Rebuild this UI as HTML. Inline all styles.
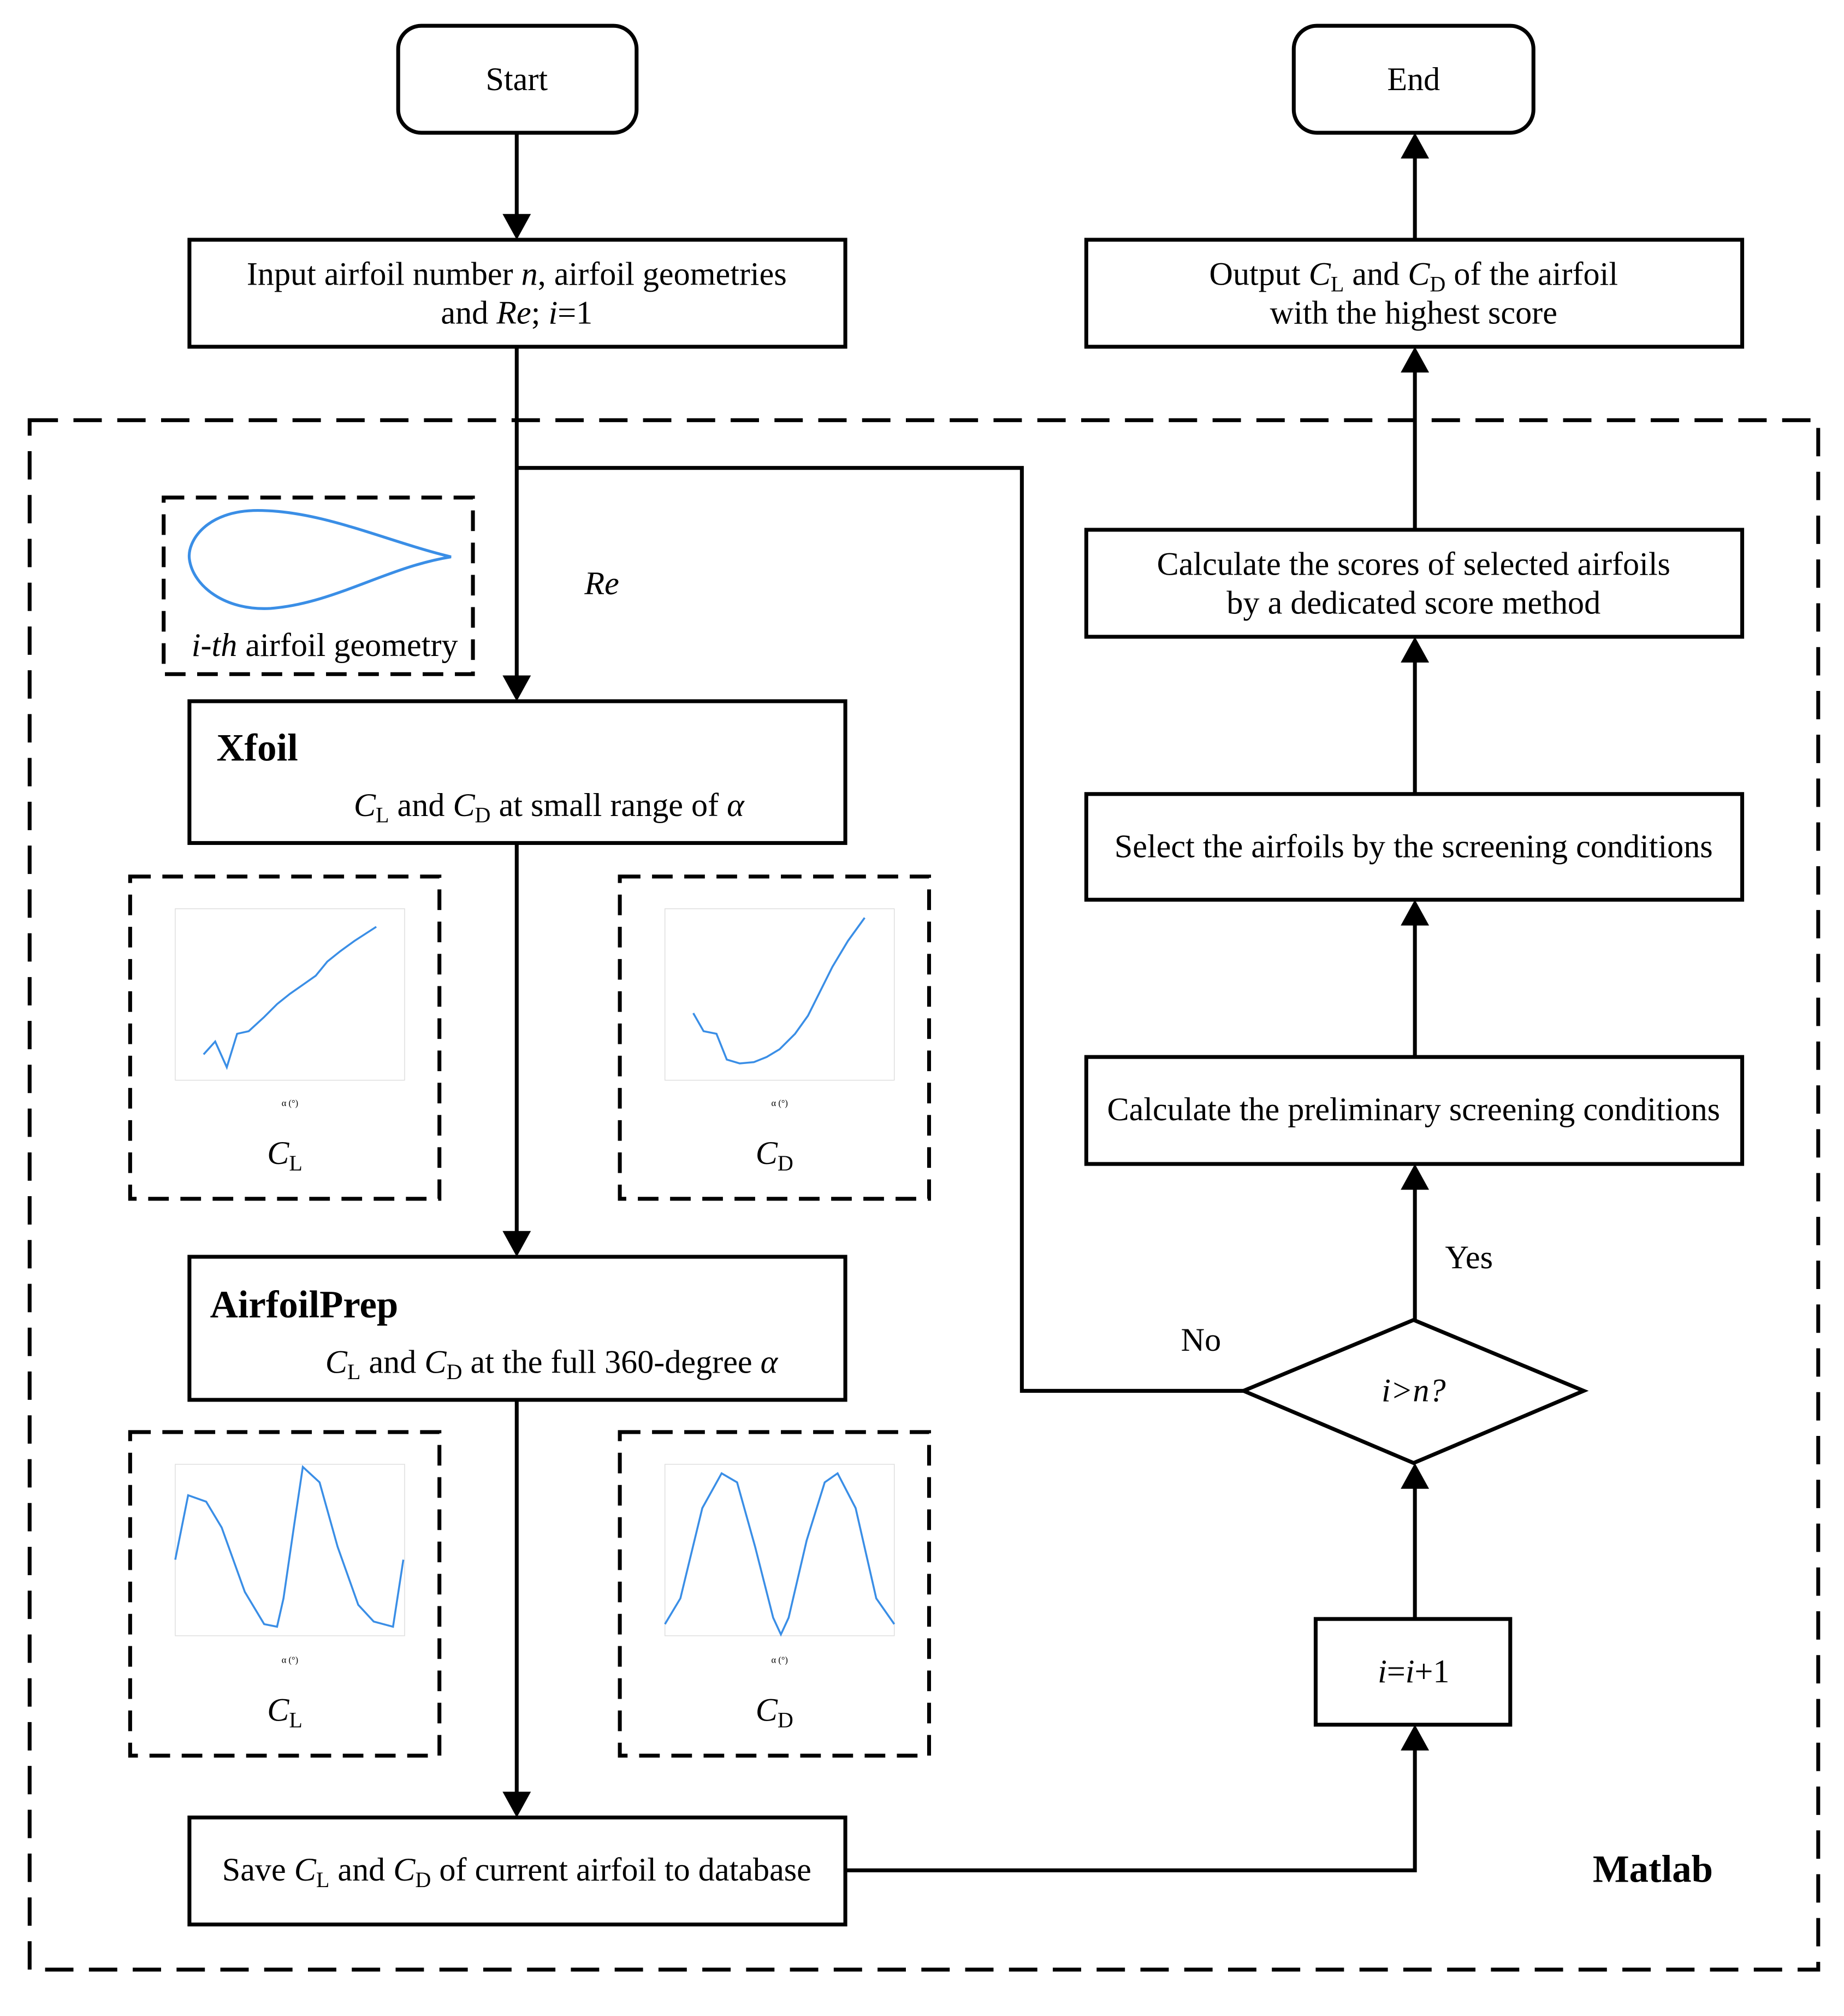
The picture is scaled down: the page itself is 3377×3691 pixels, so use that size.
<!DOCTYPE html>
<html><head><meta charset="utf-8"><style>
html,body{margin:0;padding:0;background:#fff}
svg{display:block}
text{font-family:"Liberation Serif",serif;fill:#000}
</style></head><body>
<svg width="3377" height="3691" viewBox="0 0 1431 1564" preserveAspectRatio="none" xmlns="http://www.w3.org/2000/svg">
<g fill="none" stroke="#000" stroke-width="3">
<rect x="309" y="20" width="185" height="83" rx="18"/>
<rect x="1004" y="20" width="186" height="83" rx="18"/>
<rect x="147" y="186" width="509" height="83"/>
<rect x="843" y="186" width="509" height="83"/>
<rect x="23" y="326" width="1388" height="1202" stroke-dasharray="22,12"/>
<rect x="127" y="386" width="240" height="137" stroke-dasharray="16,9"/>
<rect x="147" y="544" width="509" height="110"/>
<rect x="101" y="680" width="240" height="250" stroke-dasharray="16,9"/>
<rect x="481" y="680" width="240" height="250" stroke-dasharray="16,9"/>
<rect x="147" y="975" width="509" height="111"/>
<rect x="101" y="1111" width="240" height="251" stroke-dasharray="16,9"/>
<rect x="481" y="1111" width="240" height="251" stroke-dasharray="16,9"/>
<rect x="147" y="1410" width="509" height="83"/>
<rect x="1021" y="1256" width="151" height="82"/>
<polygon points="965,1079 1097,1024 1229,1079 1097,1135"/>
<rect x="843" y="820" width="509" height="83"/>
<rect x="843" y="616" width="509" height="82"/>
<rect x="843" y="411" width="509" height="83"/>
<line x1="401" y1="103" x2="401" y2="168"/>
<line x1="401" y1="269" x2="401" y2="526"/>
<polyline points="401,363 793,363 793,1079 965,1079"/>
<line x1="401" y1="654" x2="401" y2="957"/>
<line x1="401" y1="1086" x2="401" y2="1392"/>
<polyline points="656,1451 1098,1451 1098,1356"/>
<line x1="1098" y1="1256" x2="1098" y2="1153"/>
<line x1="1098" y1="1024" x2="1098" y2="921"/>
<line x1="1098" y1="820" x2="1098" y2="716"/>
<line x1="1098" y1="616" x2="1098" y2="512"/>
<line x1="1098" y1="411" x2="1098" y2="287"/>
<line x1="1098" y1="186" x2="1098" y2="121"/>
</g>
<g fill="#000">
<polygon points="390,166 412,166 401,186"/>
<polygon points="390,524 412,524 401,544"/>
<polygon points="390,955 412,955 401,975"/>
<polygon points="390,1390 412,1390 401,1410"/>
<polygon points="1087,1358 1109,1358 1098,1338"/>
<polygon points="1087,1155 1109,1155 1098,1135"/>
<polygon points="1087,923 1109,923 1098,903"/>
<polygon points="1087,718 1109,718 1098,698"/>
<polygon points="1087,514 1109,514 1098,494"/>
<polygon points="1087,289 1109,289 1098,269"/>
<polygon points="1087,123 1109,123 1098,103"/>
</g>
<path d="M350,432 C300,420 250,396 200,396 C160,396 145,420 147,434 C150,455 175,474 210,472 C260,468 300,440 350,432 Z" fill="none" stroke="#3a8ee6" stroke-width="2.2"/>
<g font-size="25.5" text-anchor="middle">
<text x="401" y="70">Start</text>
<text x="1097" y="70">End</text>
<text x="401" y="221">Input airfoil number <tspan font-style="italic">n</tspan>, airfoil geometries</text>
<text x="401" y="251">and <tspan font-style="italic">Re</tspan>; <tspan font-style="italic">i</tspan>=1</text>
<text x="1097" y="221">Output <tspan font-style="italic">C</tspan><tspan font-size="17" dy="5">L</tspan><tspan dy="-5"> and </tspan><tspan font-style="italic">C</tspan><tspan font-size="17" dy="5">D</tspan><tspan dy="-5"> of the airfoil</tspan></text>
<text x="1097" y="251">with the highest score</text>
<text x="1097" y="446">Calculate the scores of selected airfoils</text>
<text x="1097" y="476">by a dedicated score method</text>
<text x="1097" y="665">Select the airfoils by the screening conditions</text>
<text x="1097" y="869">Calculate the preliminary screening conditions</text>
<text x="1097" y="1087" font-style="italic">i&gt;n?</text>
<text x="1097" y="1305"><tspan font-style="italic">i</tspan>=<tspan font-style="italic">i</tspan>+1</text>
<text x="401" y="1459">Save <tspan font-style="italic">C</tspan><tspan font-size="17" dy="5">L</tspan><tspan dy="-5"> and </tspan><tspan font-style="italic">C</tspan><tspan font-size="17" dy="5">D</tspan><tspan dy="-5"> of current airfoil to database</tspan></text>
<text x="426" y="633"><tspan font-style="italic">C</tspan><tspan font-size="17" dy="5">L</tspan><tspan dy="-5"> and </tspan><tspan font-style="italic">C</tspan><tspan font-size="17" dy="5">D</tspan><tspan dy="-5"> at small range of </tspan><tspan font-style="italic">α</tspan></text>
<text x="428" y="1065"><tspan font-style="italic">C</tspan><tspan font-size="17" dy="5">L</tspan><tspan dy="-5"> and </tspan><tspan font-style="italic">C</tspan><tspan font-size="17" dy="5">D</tspan><tspan dy="-5"> at the full 360-degree </tspan><tspan font-style="italic">α</tspan></text>
<text x="252" y="509"><tspan font-style="italic">i-th</tspan> airfoil geometry</text>
<text x="221" y="903"><tspan font-style="italic">C</tspan><tspan font-size="17" dy="5">L</tspan></text>
<text x="601" y="903"><tspan font-style="italic">C</tspan><tspan font-size="17" dy="5">D</tspan></text>
<text x="221" y="1335"><tspan font-style="italic">C</tspan><tspan font-size="17" dy="5">L</tspan></text>
<text x="601" y="1335"><tspan font-style="italic">C</tspan><tspan font-size="17" dy="5">D</tspan></text>
<text x="467" y="461" font-style="italic">Re</text>
<text x="1140" y="984">Yes</text>
<text x="932" y="1048">No</text>
</g>
<g font-size="30" font-weight="bold">
<text x="168" y="590">Xfoil</text>
<text x="163" y="1022">AirfoilPrep</text>
<text x="1236" y="1460">Matlab</text>
</g>
<g stroke="#ddd" stroke-width="0.6" fill="none">
<rect x="136" y="705" width="178" height="133"/>
<rect x="516" y="705" width="178" height="133"/>
<rect x="136" y="1136" width="178" height="133"/>
<rect x="516" y="1136" width="178" height="133"/>
</g>
<g stroke="#3a8ee6" stroke-width="1.5" fill="none">
<polyline points="158,818 167,808 176,828 184,802 193,800 205,789 215,779 225,771 235,764 245,757 254,746 264,738 275,730 292,719"/>
<polyline points="538,786 546,800 556,802 564,822 574,825 585,824 595,820 605,814 617,802 627,788 636,770 646,750 658,730 671,712"/>
<polyline points="136,1210 146,1160 160,1165 172,1185 190,1235 205,1260 215,1262 220,1240 228,1185 235,1138 248,1150 262,1200 278,1245 290,1258 305,1262 313,1210"/>
<polyline points="516,1260 528,1240 545,1170 560,1143 572,1150 586,1200 600,1255 606,1268 612,1255 626,1195 640,1150 650,1143 664,1170 680,1240 694,1260"/>
</g>
<g font-size="7" fill="#555" text-anchor="middle">
<text x="225" y="858">α (°)</text><text x="605" y="858">α (°)</text>
<text x="225" y="1290">α (°)</text><text x="605" y="1290">α (°)</text>
</g>
</svg>
</body></html>
